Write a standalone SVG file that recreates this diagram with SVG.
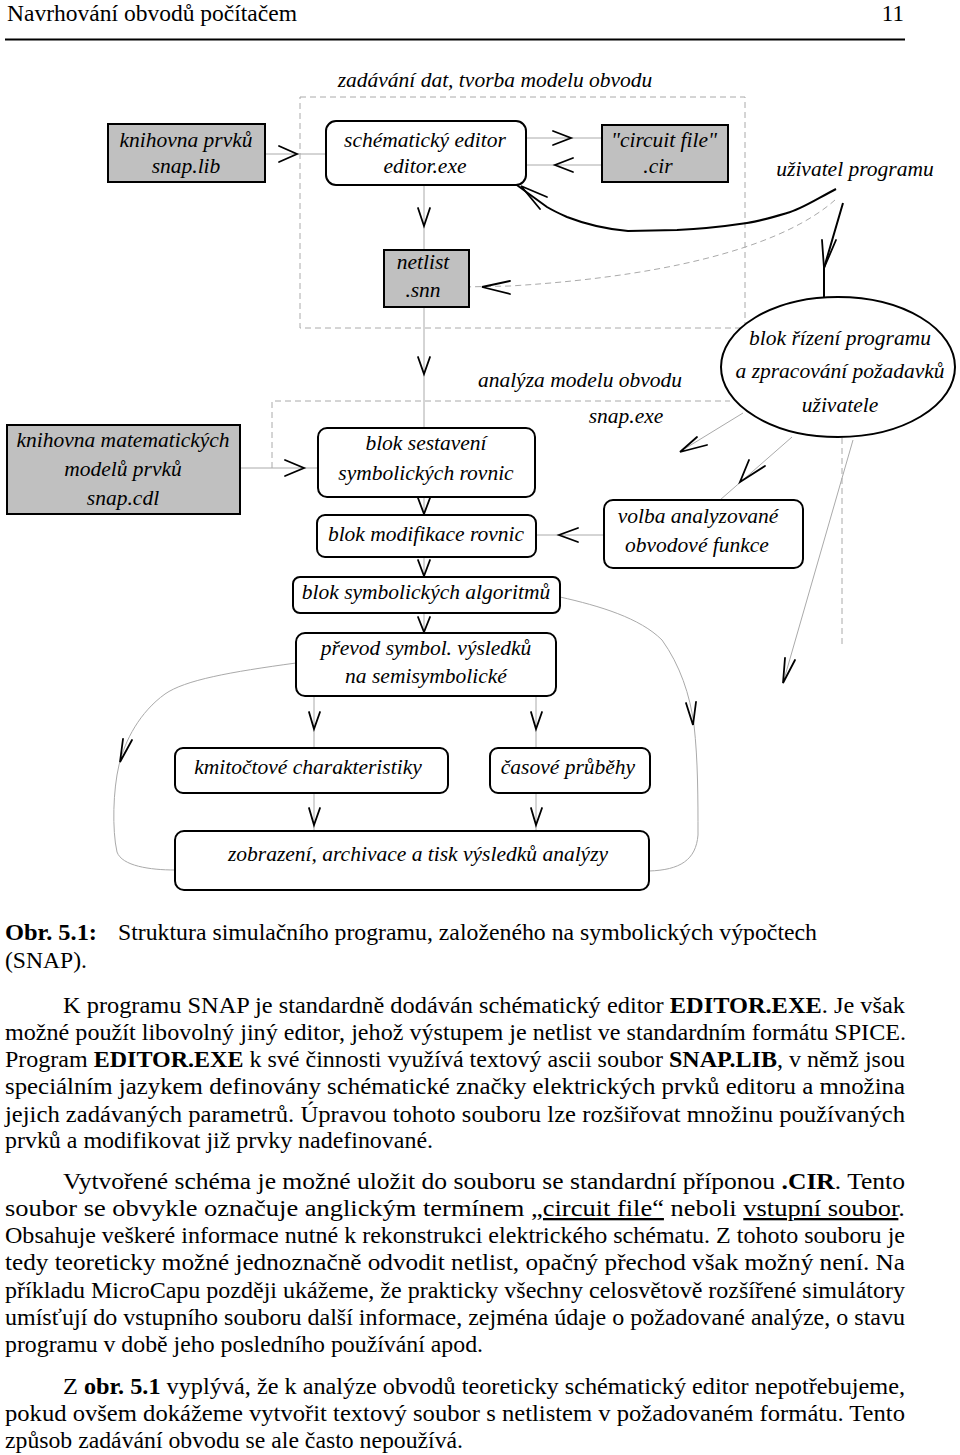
<svg xmlns="http://www.w3.org/2000/svg" width="960" height="1455" viewBox="0 0 960 1455">
<style>
text{font-family:"Liberation Serif","Times New Roman",serif;fill:#000}
.it{font-style:italic;font-size:21.5px;text-anchor:middle}
.box{fill:#fff;stroke:#000;stroke-width:2}
.grey{fill:#c0c0c0;stroke:#000;stroke-width:2}
.dash{fill:none;stroke:#aaa;stroke-width:1;stroke-dasharray:6 4}
.ln{fill:none;stroke:#aaa;stroke-width:1}
.ah{fill:none;stroke:#000;stroke-width:1.8;stroke-linecap:round;stroke-linejoin:miter}
.thick{fill:none;stroke:#000;stroke-width:2;stroke-linejoin:round}
</style>
<rect width="960" height="1455" fill="#fff"/>
<g id="header">
<text x="7" y="21" font-size="23" textLength="290" lengthAdjust="spacingAndGlyphs">Navrhování obvodů počítačem</text>
<text x="904" y="21" font-size="23" text-anchor="end">11</text>
<line x1="5" y1="39.5" x2="905" y2="39.5" stroke="#000" stroke-width="2.2"/>
</g>
<g id="frames">
<rect class="dash" x="300" y="97" width="445" height="231"/>
<path class="dash" d="M272,468 V401 H730"/>
<path class="dash" d="M842,438 V647"/>
<text class="it" x="495" y="87">zadávání dat, tvorba modelu obvodu</text>
<text class="it" x="580" y="387">analýza modelu obvodu</text>
<text class="it" x="626" y="423">snap.exe</text>
<text class="it" x="855" y="176">uživatel programu</text>
</g>
<g id="connectors">
<line class="ln" x1="265" y1="154" x2="326" y2="154"/>
<line class="ln" x1="526" y1="138" x2="602" y2="138"/>
<line class="ln" x1="526" y1="165" x2="602" y2="165"/>
<line class="ln" x1="424" y1="185" x2="424" y2="250"/>
<line class="ln" x1="424" y1="307" x2="424" y2="428"/>
<line class="ln" x1="424" y1="497" x2="424" y2="515"/>
<line class="ln" x1="424" y1="557" x2="424" y2="577"/>
<line class="ln" x1="424" y1="613" x2="424" y2="633"/>
<line class="ln" x1="240" y1="468" x2="318" y2="468"/>
<line class="ln" x1="536" y1="535" x2="604" y2="535"/>
<line class="ln" x1="314" y1="696" x2="314" y2="748"/>
<line class="ln" x1="536" y1="696" x2="536" y2="748"/>
<line class="ln" x1="314" y1="793" x2="314" y2="831"/>
<line class="ln" x1="536" y1="793" x2="536" y2="831"/>
<line class="ln" x1="743" y1="413" x2="681" y2="451"/>
<line class="ln" x1="792" y1="437" x2="720" y2="500"/>
<line class="ln" x1="853" y1="440" x2="783" y2="683"/>
<path class="ln" d="M296,663 C230,672 185,680 165,694 C140,712 125,740 119,765 C113,790 112,830 117,852 C122,866 150,870 175,870"/>
<path class="ln" d="M560,597 C600,606 640,618 662,640 C680,665 690,695 694,725 C698,760 698,800 698,835 C696,860 680,870 649,871"/>
<path class="dash" d="M835,200 C790,240 690,275 510,286 L462,287"/>
<path class="thick" d="M836,189 C815,200 800,210 787,213 C770,218 760,221 747,223 C720,227 700,229 677,230 L628,231 C605,229 585,224 567,217 C558,213 552,210 547,207 L503,175"/>
<path class="thick" d="M843,203 L824,268 L824,297"/>
<path class="ah" d="M822,240 L824,268 L836,240"/>
<path class="ah" d="M547,197 L521,186 L540,209"/>
<path class="ah" d="M279,146 L297,154 L279,162"/>
<path class="ah" d="M553,131 L571,138 L553,145"/>
<path class="ah" d="M573,158 L555,165 L573,172"/>
<path class="ah" d="M510,281 L482,287 L510,294"/>
<path class="ah" d="M418,208 L424,226 L430,208"/>
<path class="ah" d="M418,357 L424,374 L430,357"/>
<path class="ah" d="M285,460 L304,468 L285,476"/>
<path class="ah" d="M418,498 L424,514 L430,498"/>
<path class="ah" d="M418,560 L424,576 L430,560"/>
<path class="ah" d="M418,617 L424,632 L430,617"/>
<path class="ah" d="M578,528 L559,535 L578,542"/>
<path class="ah" d="M697,437 L680,452 L707,445"/>
<path class="ah" d="M749,460 L740,482 L765,466"/>
<path class="ah" d="M785,658 L783,683 L795,660"/>
<path class="ah" d="M686,703 L693,725 L696,702"/>
<path class="ah" d="M123,739 L120,762 L132,740"/>
<path class="ah" d="M309,712 L314,729 L320,712"/>
<path class="ah" d="M531,712 L536,729 L542,712"/>
<path class="ah" d="M309,808 L314,825 L320,808"/>
<path class="ah" d="M531,808 L536,825 L542,808"/>
</g>
<g id="n-knihovna-prvku">
<rect class="grey" x="108" y="124" width="157" height="58"/>
<text class="it" x="186" y="147">knihovna prvků</text>
<text class="it" x="186" y="173">snap.lib</text>
</g>
<g id="n-editor">
<rect class="box" x="326" y="121" width="200" height="64" rx="10"/>
<text class="it" x="425" y="147">schématický editor</text>
<text class="it" x="425" y="173">editor.exe</text>
</g>
<g id="n-circuit">
<rect class="grey" x="602" y="125" width="126" height="57"/>
<text class="it" x="664" y="147">"circuit file"</text>
<text class="it" x="658" y="173">.cir</text>
</g>
<g id="n-netlist">
<rect class="grey" x="384" y="250" width="85" height="57"/>
<text class="it" x="423" y="269">netlist</text>
<text class="it" x="423" y="297">.snn</text>
</g>
<g id="n-rizeni">
<ellipse class="box" cx="838" cy="367" rx="117" ry="70"/>
<text class="it" x="840" y="345">blok řízení programu</text>
<text class="it" x="840" y="378">a zpracování požadavků</text>
<text class="it" x="840" y="412">uživatele</text>
</g>
<g id="n-knihovna-mat">
<rect class="grey" x="7" y="425" width="233" height="89"/>
<text class="it" x="123" y="447">knihovna matematických</text>
<text class="it" x="123" y="476">modelů prvků</text>
<text class="it" x="123" y="505">snap.cdl</text>
</g>
<g id="n-sestaveni">
<rect class="box" x="318" y="428" width="217" height="69" rx="9"/>
<text class="it" x="426" y="450">blok sestavení</text>
<text class="it" x="426" y="480">symbolických rovnic</text>
</g>
<g id="n-modifikace">
<rect class="box" x="317" y="515" width="219" height="42" rx="8"/>
<text class="it" x="426" y="541">blok modifikace rovnic</text>
</g>
<g id="n-volba">
<rect class="box" x="604" y="500" width="199" height="68" rx="9"/>
<text class="it" x="698" y="523">volba analyzované</text>
<text class="it" x="697" y="552">obvodové funkce</text>
</g>
<g id="n-algoritmy">
<rect class="box" x="293" y="577" width="267" height="36" rx="7"/>
<text class="it" x="426" y="599">blok symbolických algoritmů</text>
</g>
<g id="n-prevod">
<rect class="box" x="296" y="633" width="260" height="63" rx="9"/>
<text class="it" x="426" y="655">převod symbol. výsledků</text>
<text class="it" x="426" y="683">na semisymbolické</text>
</g>
<g id="n-kmitoctove">
<rect class="box" x="175" y="748" width="273" height="45" rx="8"/>
<text class="it" x="308" y="774">kmitočtové charakteristiky</text>
</g>
<g id="n-casove">
<rect class="box" x="490" y="748" width="160" height="45" rx="8"/>
<text class="it" x="568" y="774">časové průběhy</text>
</g>
<g id="n-zobrazeni">
<rect class="box" x="175" y="831" width="474" height="59" rx="9"/>
<text class="it" x="418" y="861">zobrazení, archivace a tisk výsledků analýzy</text>
</g>
<g id="caption" font-size="23">
<text x="5" y="940" font-weight="bold" textLength="92" lengthAdjust="spacingAndGlyphs">Obr. 5.1:</text>
<text x="118" y="940" textLength="699" lengthAdjust="spacingAndGlyphs">Struktura simulačního programu, založeného na symbolických výpočtech</text>
<text x="5" y="968" textLength="82" lengthAdjust="spacingAndGlyphs">(SNAP).</text>
</g>
<g id="bodytext" font-size="23">
<text x="63" y="1013" textLength="842" lengthAdjust="spacingAndGlyphs">K programu SNAP je standardně dodáván schématický editor <tspan font-weight="bold">EDITOR.EXE</tspan>. Je však</text>
<text x="5" y="1040" textLength="901" lengthAdjust="spacingAndGlyphs">možné použít libovolný jiný editor, jehož výstupem je netlist ve standardním formátu SPICE.</text>
<text x="5" y="1067" textLength="900" lengthAdjust="spacingAndGlyphs">Program <tspan font-weight="bold">EDITOR.EXE</tspan> k své činnosti využívá textový ascii soubor <tspan font-weight="bold">SNAP.LIB</tspan>, v němž jsou</text>
<text x="5" y="1094" textLength="900" lengthAdjust="spacingAndGlyphs">speciálním jazykem definovány schématické značky elektrických prvků editoru a množina</text>
<text x="5" y="1122" textLength="900" lengthAdjust="spacingAndGlyphs">jejich zadávaných parametrů. Úpravou tohoto souboru lze rozšiřovat množinu používaných</text>
<text x="5" y="1148" textLength="428" lengthAdjust="spacingAndGlyphs">prvků a modifikovat již prvky nadefinované.</text>
<text x="63" y="1189" textLength="842" lengthAdjust="spacingAndGlyphs">Vytvořené schéma je možné uložit do souboru se standardní příponou <tspan font-weight="bold">.CIR</tspan>. Tento</text>
<text x="5" y="1216" textLength="900" lengthAdjust="spacingAndGlyphs">soubor se obvykle označuje anglickým termínem <tspan text-decoration="underline">„circuit file“</tspan> neboli <tspan text-decoration="underline">vstupní soubor</tspan>.</text>
<text x="5" y="1243" textLength="900" lengthAdjust="spacingAndGlyphs">Obsahuje veškeré informace nutné k rekonstrukci elektrického schématu. Z tohoto souboru je</text>
<text x="5" y="1270" textLength="900" lengthAdjust="spacingAndGlyphs">tedy teoreticky možné jednoznačně odvodit netlist, opačný přechod však možný není. Na</text>
<text x="5" y="1298" textLength="900" lengthAdjust="spacingAndGlyphs">příkladu MicroCapu později ukážeme, že prakticky všechny celosvětově rozšířené simulátory</text>
<text x="5" y="1325" textLength="900" lengthAdjust="spacingAndGlyphs">umísťují do vstupního souboru další informace, zejména údaje o požadované analýze, o stavu</text>
<text x="5" y="1352" textLength="478" lengthAdjust="spacingAndGlyphs">programu v době jeho posledního používání apod.</text>
<text x="63" y="1394" textLength="842" lengthAdjust="spacingAndGlyphs">Z  <tspan font-weight="bold">obr. 5.1</tspan> vyplývá, že k analýze obvodů teoreticky schématický editor nepotřebujeme,</text>
<text x="5" y="1421" textLength="900" lengthAdjust="spacingAndGlyphs">pokud ovšem dokážeme vytvořit textový soubor s netlistem v požadovaném formátu. Tento</text>
<text x="5" y="1448" textLength="458" lengthAdjust="spacingAndGlyphs">způsob zadávání obvodu se ale často nepoužívá.</text>
</g>
</svg>
